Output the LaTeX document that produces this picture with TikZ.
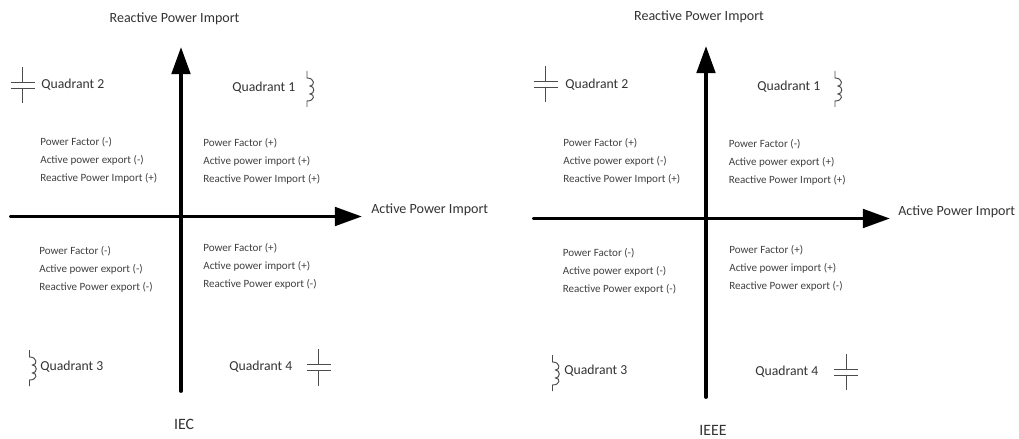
\documentclass[tikz,border=0pt]{standalone}
\usepackage{fontspec}
\setmainfont{Carlito}
\usetikzlibrary{arrows.meta}
\usetikzlibrary{calc}
\tikzset{
  axisline/.style={black, line width=2.2pt, line cap=round, -{Triangle[length=15.5pt,width=10.5pt]}},
  heading/.style={font=\fontsize{8}{9}\selectfont, text=black!80, inner sep=0pt},
  stdname/.style={font=\fontsize{9}{10}\selectfont, text=black!80, inner sep=0pt},
  quadname/.style={font=\fontsize{7.8}{9}\selectfont, text=black!80, inner sep=0pt, anchor=west},
  quadtext/.style={font=\fontsize{6.3}{10.2}\selectfont, text=black!75, inner sep=0pt, anchor=north west, align=left},
  symline/.style={black!70, line width=0.55pt}
}
\newcommand{\capsym}[3]{% name, x, y
  \coordinate (#1) at (#2,#3);
  \draw[symline] ($(#1)+(-12,-3)$) -- ($(#1)+(12,-3)$);
  \draw[symline] ($(#1)+(-12,3)$) -- ($(#1)+(12,3)$);
  \draw[symline] ($(#1)+(0,-18)$) -- ($(#1)+(0,-3)$);
  \draw[symline] ($(#1)+(0,3)$) -- ($(#1)+(0,18)$);
}
\newcommand{\indsym}[3]{% name, x, y
  \coordinate (#1) at (#2,#3);
  \draw[symline] ($(#1)+(0,-18)$) -- ($(#1)+(0,-11)$)
    .. controls ($(#1)+(8,-11)$) and ($(#1)+(8,-3)$) .. ($(#1)+(3,-3)$)
    .. controls ($(#1)+(8,-3)$) and ($(#1)+(8,5)$) .. ($(#1)+(3,5)$)
    .. controls ($(#1)+(8,5)$) and ($(#1)+(8,12)$) .. ($(#1)+(0,12)$) -- ($(#1)+(0,18)$);
}
\begin{document}
\begin{tikzpicture}[x=0.02cm,y=-0.02cm]
\useasboundingbox (0,0) rectangle (1019,439);
% IEC
\coordinate (iecbottom) at (181,391);
\coordinate (iectop) at (181,47);
\coordinate (iecleft) at (11,216.5);
\coordinate (iecright) at (362,216.5);
\draw[axisline] (iecbottom) -- (iectop);
\draw[axisline] (iecleft) -- (iecright);
\node[heading] (iecreactive) at (174.5,18.5) {Reactive Power Import};
\node[heading,anchor=west] (iecactive) at (371,210) {Active Power Import};
\node[stdname] (iecname) at (184,424) {IEC};
\capsym{iecctwo}{22.5}{85}
\node[quadname] (iecqtwo) at (41,85) {Quadrant 2};
\node[quadname] (iecqone) at (232,87.5) {Quadrant 1};
\indsym{iecione}{307}{89}
\indsym{iecithree}{29.5}{368}
\node[quadname] (iecqthree) at (40,367) {Quadrant 3};
\node[quadname] (iecqfour) at (229,367) {Quadrant 4};
\capsym{ieccfour}{318.5}{367.5}
\node[quadtext] (iectl) at (40,137) {Power Factor (-)\\Active power export (-)\\Reactive Power Import (+)};
\node[quadtext] (iectr) at (203,138) {Power Factor (+)\\Active power import (+)\\Reactive Power Import (+)};
\node[quadtext] (iecbl) at (39,246) {Power Factor (-)\\Active power export (-)\\Reactive Power export (-)};
\node[quadtext] (iecbr) at (203,243) {Power Factor (+)\\Active power import (+)\\Reactive Power export (-)};
% IEEE
\coordinate (ieeebottom) at (706,397);
\coordinate (ieeetop) at (706,46);
\coordinate (ieeeleft) at (534,218.5);
\coordinate (ieeeright) at (890,218.5);
\draw[axisline] (ieeebottom) -- (ieeetop);
\draw[axisline] (ieeeleft) -- (ieeeright);
\node[heading] (ieeereactive) at (699,16.5) {Reactive Power Import};
\node[heading,anchor=west] (ieeeactive) at (898,212) {Active Power Import};
\node[stdname] (ieeename) at (713,430) {IEEE};
\capsym{ieeectwo}{545.5}{84}
\node[quadname] (ieeeqtwo) at (565,85) {Quadrant 2};
\node[quadname] (ieeeqone) at (757,87) {Quadrant 1};
\indsym{ieeeione}{835}{89}
\indsym{ieeeithree}{552.5}{373}
\node[quadname] (ieeeqthree) at (564,371) {Quadrant 3};
\node[quadname] (ieeeqfour) at (755,372) {Quadrant 4};
\capsym{ieeecfour}{846}{372}
\node[quadtext] (ieeetl) at (563,138) {Power Factor (+)\\Active power export (-)\\Reactive Power Import (+)};
\node[quadtext] (ieeetr) at (728.5,139) {Power Factor (-)\\Active power export (+)\\Reactive Power Import (+)};
\node[quadtext] (ieeebl) at (562.5,248) {Power Factor (-)\\Active power export (-)\\Reactive Power export (-)};
\node[quadtext] (ieeebr) at (729,245) {Power Factor (+)\\Active power import (+)\\Reactive Power export (-)};
\end{tikzpicture}
\end{document}
